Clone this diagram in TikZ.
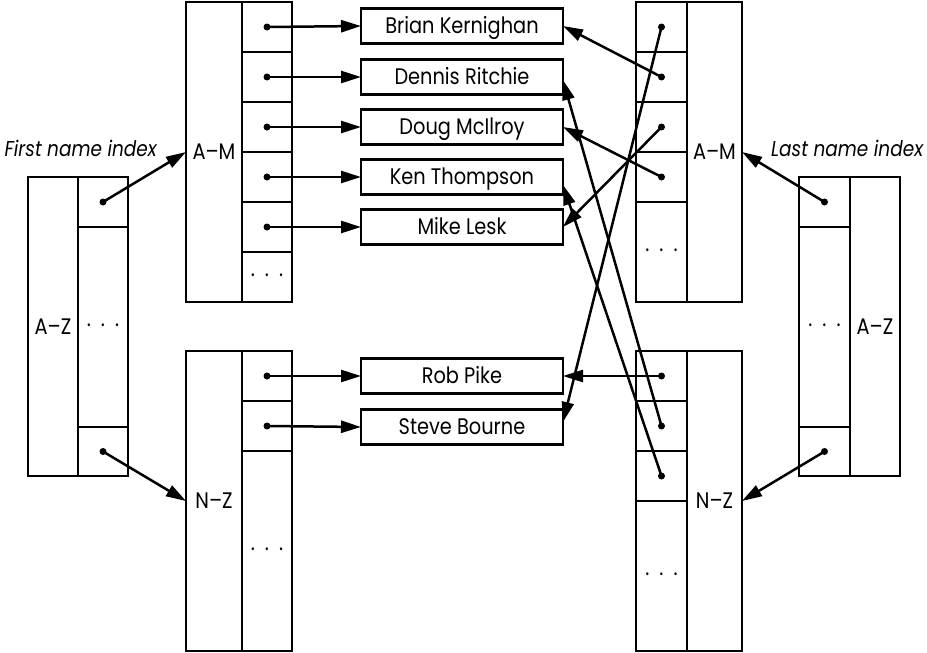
\documentclass[tikz,border=0pt]{standalone}
\usepackage{fontspec}
\setmainfont{Poppins}[FakeStretch=0.86]
\usetikzlibrary{arrows.meta,calc}
\newcommand{\dotsx}{\raisebox{3pt}{.}\hspace{10pt}\raisebox{3pt}{.}\hspace{10pt}\raisebox{3pt}{.}}
\begin{document}
\begin{tikzpicture}[x=1pt,y=-1pt,
  every node/.style={font=\fontsize{22.5}{26}\selectfont},
  cell/.style={draw,line width=2.9pt,inner sep=0pt,outer sep=0pt},
  lbl/.style={text height=15.5pt,text depth=0pt},
  sz/.style 2 args={minimum width=#1pt,minimum height=#2pt},
  namebox/.style={draw,line width=2.7pt,inner sep=0pt,outer sep=0pt,minimum width=202pt,minimum height=35pt,text height=15.5pt,text depth=0pt},
  ptr/.style={line width=2.5pt,-{Triangle[length=20pt,width=12pt]}},
  idx/.style={font=\fontsize{21.5}{24}\selectfont\itshape,inner sep=0pt}]
\useasboundingbox (0,0) rectangle (927,653);
\fill[white] (0,0) rectangle (927,653);

% ---- left index A-Z
\node[cell,lbl,sz={50}{299}] (lzl) at (53,326.5) {A–Z};
\node[cell,sz={50}{50}] (lz1) at (103,202) {};
\node[cell,sz={50}{200}] (lz2) at (103,327) {\dotsx};
\node[cell,sz={50}{49}] (lz3) at (103,451.5) {};
\node[idx,anchor=base east] (fni) at (157,156) {First name index};

% ---- left A-M
\node[cell,lbl,sz={56}{300}] (lam) at (214,152) {A–M};
\node[cell,sz={50}{50}] (la1) at (267,27) {};
\node[cell,sz={50}{50}] (la2) at (267,77) {};
\node[cell,sz={50}{50}] (la3) at (267,127) {};
\node[cell,sz={50}{50}] (la4) at (267,177) {};
\node[cell,sz={50}{50}] (la5) at (267,227) {};
\node[cell,sz={50}{50}] (la6) at (267,277) {\dotsx};

% ---- left N-Z
\node[cell,lbl,sz={56}{300}] (lnz) at (214,501) {N–Z};
\node[cell,sz={50}{50}] (ln1) at (267,376) {};
\node[cell,sz={50}{50}] (ln2) at (267,426) {};
\node[cell,sz={50}{200}] (ln3) at (267,551) {\dotsx};

% ---- name boxes
\node[namebox] (bk) at (462,26) {Brian Kernighan};
\node[namebox] (dr) at (462,77) {Dennis Ritchie};
\node[namebox] (dm) at (462,127) {Doug McIlroy};
\node[namebox] (kt) at (462,177) {Ken Thompson};
\node[namebox] (ml) at (462,227) {Mike Lesk};
\node[namebox] (rp) at (462,376) {Rob Pike};
\node[namebox] (sb) at (462,427) {Steve Bourne};

% ---- right A-M
\node[cell,lbl,sz={55}{300}] (ram) at (714.5,152) {A–M};
\node[cell,sz={51}{50}] (ra1) at (661.5,27) {};
\node[cell,sz={51}{50}] (ra2) at (661.5,77) {};
\node[cell,sz={51}{50}] (ra3) at (661.5,127) {};
\node[cell,sz={51}{50}] (ra4) at (661.5,177) {};
\node[cell,sz={51}{100}] (ra5) at (661.5,252) {\dotsx};

% ---- right N-Z
\node[cell,lbl,sz={55}{300}] (rnz) at (714.5,501) {N–Z};
\node[cell,sz={51}{50}] (rn1) at (661.5,376) {};
\node[cell,sz={51}{50}] (rn2) at (661.5,426) {};
\node[cell,sz={51}{50}] (rn3) at (661.5,476) {};
\node[cell,sz={51}{150}] (rn4) at (661.5,576) {\dotsx};

% ---- right index A-Z
\node[cell,lbl,sz={50}{299}] (rzl) at (875,326.5) {A–Z};
\node[cell,sz={51}{50}] (rz1) at (824.5,202) {};
\node[cell,sz={51}{200}] (rz2) at (824.5,327) {\dotsx};
\node[cell,sz={51}{49}] (rz3) at (824.5,451.5) {};
\node[idx,anchor=base west] (lni) at (771,156) {Last name index};

% ---- dots
\foreach \c in {lz1,lz3,la1,la2,la3,la4,la5,ln1,ln2,ra1,ra2,ra3,ra4,rn1,rn2,rn3,rz1,rz3}
  \fill (\c.center) circle (3.5pt);

% ---- connectors
\draw[ptr] (lz1.center) -- (lam.west);
\draw[ptr] (lz3.center) -- (lnz.west);
\draw[ptr] (rz1.center) -- (ram.east);
\draw[ptr] (rz3.center) -- (rnz.east);

\draw[ptr] (la1.center) -- (bk.west);
\draw[ptr] (la2.center) -- (dr.west);
\draw[ptr] (la3.center) -- (dm.west);
\draw[ptr] (la4.center) -- (kt.west);
\draw[ptr] (la5.center) -- (ml.west);
\draw[ptr] (ln1.center) -- (rp.west);
\draw[ptr] (ln2.center) -- (sb.west);

\draw[ptr] (ra1.center) -- ([yshift=5pt]sb.east);
\draw[ptr] (ra2.center) -- (bk.east);
\draw[ptr] (ra3.center) -- (ml.east);
\draw[ptr] (ra4.center) -- (dm.east);
\draw[ptr] (rn1.center) -- (rp.east);
\draw[ptr] (rn2.center) -- ([yshift=-3pt]dr.east);
\draw[ptr] (rn3.center) -- ([yshift=-8pt]kt.east);
\end{tikzpicture}
\end{document}
